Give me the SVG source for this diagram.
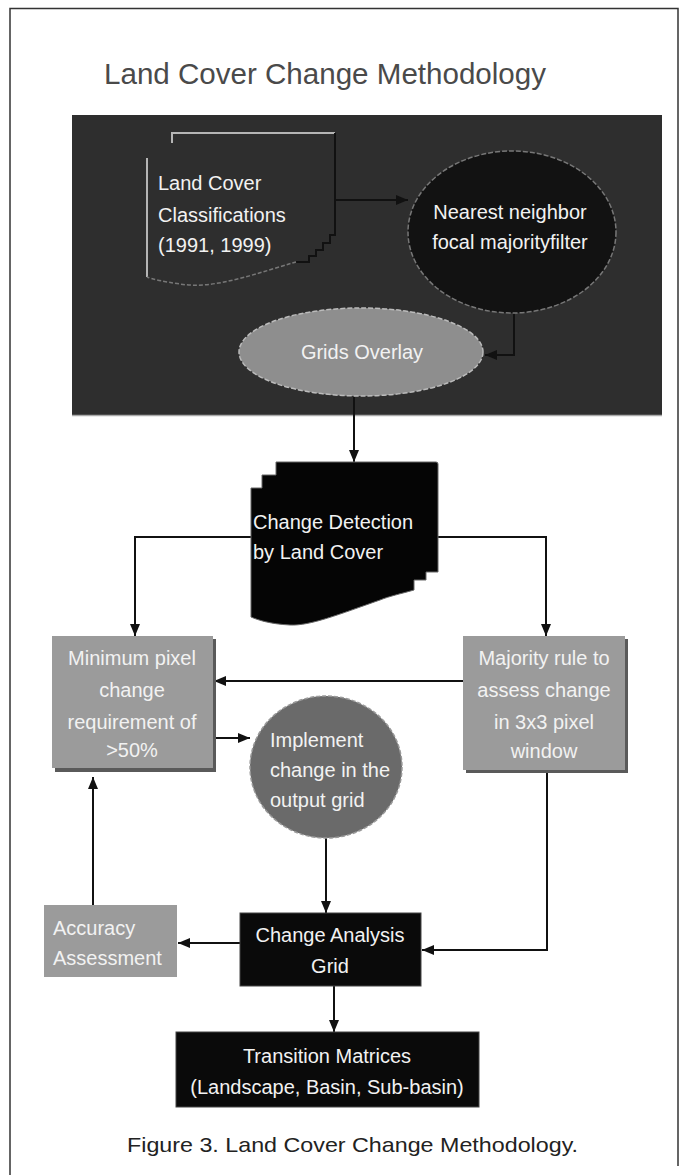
<svg xmlns="http://www.w3.org/2000/svg" width="688" height="1175" viewBox="0 0 688 1175">
<defs>
<style>
text{font-family:"Liberation Sans",Arial,sans-serif;}
.w{fill:#f2f2f2;font-size:20px;}
.c{text-anchor:middle;}
.ln{fill:none;stroke:#111;stroke-width:2;}
.gbox{fill:#9b9b9b;}
.shadow{fill:#5a5a5a;}
.bbox{fill:#0a0a0a;stroke:#444;stroke-width:1;}
</style>
<marker id="ah" markerWidth="12" markerHeight="10" refX="12" refY="5" orient="auto" markerUnits="userSpaceOnUse">
<path d="M0,0 L12,5 L0,10 Z" fill="#111"/>
</marker>
</defs>
<rect x="0" y="0" width="688" height="1175" fill="#fff"/>
<path d="M10,1175 V8.5 H678 V1166" fill="none" stroke="#333" stroke-width="1.5"/>
<text x="104" y="84" font-size="30" fill="#4a4a4a" textLength="442" lengthAdjust="spacingAndGlyphs">Land Cover Change Methodology</text>

<g id="panel">
<rect x="72" y="115" width="590" height="300" fill="#2e2e2e"/>
<line x1="72" y1="415.5" x2="662" y2="415.5" stroke="#aaa" stroke-width="1.5"/>
</g>

<g id="connectors">
<line class="ln" x1="336" y1="200" x2="408" y2="200" marker-end="url(#ah)"/>
<path class="ln" d="M514,313 V355 H485" marker-end="url(#ah)"/>
<line class="ln" x1="354" y1="397" x2="354" y2="462" marker-end="url(#ah)"/>
<path class="ln" d="M251,537 H135 V636" marker-end="url(#ah)"/>
<path class="ln" d="M438,537 H546 V636" marker-end="url(#ah)"/>
<line class="ln" x1="463" y1="681" x2="214" y2="681" marker-end="url(#ah)"/>
<line class="ln" x1="213" y1="738" x2="250" y2="738" marker-end="url(#ah)"/>
<line class="ln" x1="326" y1="838" x2="326" y2="913" marker-end="url(#ah)"/>
<line class="ln" x1="93" y1="905" x2="93" y2="777" marker-end="url(#ah)"/>
<line class="ln" x1="240" y1="943" x2="178" y2="943" marker-end="url(#ah)"/>
<path class="ln" d="M547,772 V950 H422" marker-end="url(#ah)"/>
<line class="ln" x1="334" y1="986" x2="334" y2="1032" marker-end="url(#ah)"/>
</g>

<g id="node-classifications">
<path d="M147,158 V277" stroke="#b5b5b5" stroke-width="2" fill="none"/>
<path d="M172,143 V133 H335" stroke="#b5b5b5" stroke-width="2" fill="none"/>
<path d="M335,133 V235 H330 V243 H323 V250 H316 V256 H309 V262 H296" stroke="#111" stroke-width="2" fill="none"/>
<path d="M296,262 C260,272 215,290 180,284 C165,282 152,279 147,277" stroke="#777" stroke-width="1.5" stroke-dasharray="4,2" fill="none"/>
<text class="w" x="158" y="190">Land Cover</text>
<text class="w" x="158" y="222">Classifications</text>
<text class="w" x="158" y="252">(1991, 1999)</text>
</g>

<g id="node-nearest">
<ellipse cx="512" cy="232" rx="104" ry="81" fill="#121212" stroke="#777" stroke-width="1.5" stroke-dasharray="5,2"/>
<text class="w c" x="510" y="219">Nearest neighbor</text>
<text class="w c" x="510" y="249">focal majorityfilter</text>
</g>

<g id="node-grids">
<ellipse cx="361" cy="352" rx="122" ry="44" fill="#8e8e8e" stroke="#bbb" stroke-width="1.5" stroke-dasharray="5,2"/>
<text class="w c" x="362" y="359" font-size="19">Grids Overlay</text>
</g>

<g id="node-change-detection">
<path d="M276,462 H436 Q438,462 438,464 V572 H426 V580 H414 V590 C400,594 390,596 380,600 C340,614 310,626 290,625 C270,624 258,620 251,617 V488 H262 V475 H276 Z" fill="#050505" stroke="#666" stroke-width="1"/>
<text class="w" x="253" y="529">Change Detection</text>
<text class="w" x="253" y="559">by Land Cover</text>
</g>

<g id="node-minimum">
<rect class="shadow" x="55" y="639" width="161" height="133"/>
<rect class="gbox" x="52" y="636" width="161" height="132"/>
<text class="w c" x="132" y="665">Minimum pixel</text>
<text class="w c" x="132" y="697">change</text>
<text class="w c" x="132" y="729">requirement of</text>
<text class="w c" x="132" y="757">&gt;50%</text>
</g>

<g id="node-majority">
<rect class="shadow" x="466" y="639" width="162" height="134"/>
<rect class="gbox" x="463" y="636" width="162" height="134"/>
<text class="w c" x="544" y="665">Majority rule to</text>
<text class="w c" x="544" y="697">assess change</text>
<text class="w c" x="544" y="729">in 3x3 pixel</text>
<text class="w c" x="544" y="758">window</text>
</g>

<g id="node-implement">
<ellipse cx="326" cy="767" rx="76" ry="71" fill="#6a6a6a" stroke="#999" stroke-width="1.5" stroke-dasharray="4,2"/>
<text class="w" x="270" y="747">Implement</text>
<text class="w" x="270" y="777">change in the</text>
<text class="w" x="270" y="807">output grid</text>
</g>

<g id="node-accuracy">
<rect class="gbox" x="44" y="905" width="133" height="72"/>
<text class="w" x="53" y="935">Accuracy</text>
<text class="w" x="53" y="965">Assessment</text>
</g>

<g id="node-change-analysis">
<rect class="bbox" x="240" y="913" width="181" height="73"/>
<text class="w c" x="330" y="942">Change Analysis</text>
<text class="w c" x="330" y="973">Grid</text>
</g>

<g id="node-transition">
<rect class="bbox" x="176" y="1032" width="303" height="75"/>
<text class="w c" x="327" y="1063">Transition Matrices</text>
<text class="w c" x="327" y="1094">(Landscape, Basin, Sub-basin)</text>
</g>

<text x="127" y="1152" font-size="21" fill="#222" textLength="451" lengthAdjust="spacingAndGlyphs">Figure 3.  Land Cover Change Methodology.</text>
</svg>
